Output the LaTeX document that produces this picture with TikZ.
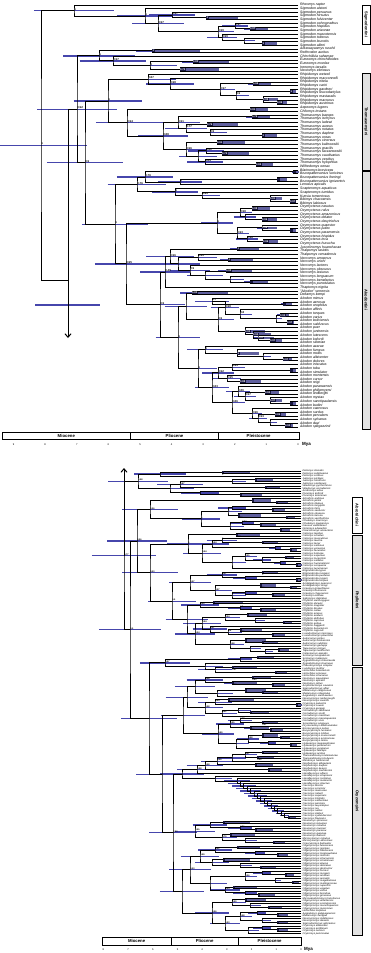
\documentclass[tikz,border=0pt]{standalone}
\usepackage{fontspec}
\setmainfont{Liberation Sans}
\usetikzlibrary{calc,arrows.meta}
\pgfdeclarelayer{bg}
\pgfsetlayers{bg,main}
\definecolor{hpdc}{RGB}{70,70,172}
\definecolor{lbarc}{RGB}{96,96,158}
\definecolor{dboxc}{RGB}{22,22,62}
\definecolor{cladegrey}{RGB}{226,226,226}
\newcommand\myfs[1]{\fontsize{#1}{#1}\selectfont}
\newif\ifboxlab
\boxlabtrue
\def\tipx{298}
\def\bh{1.4}
\gdef\barlist{}
% thin HPD bar node
\newcommand\cl[5]{%
 \coordinate (tmp) at ($(#3)!0.5!(#4)$);%
 \coordinate (#1) at (#2,0 |- tmp);%
 \pgfmathsetmacro\nAge{0.17*(\tipx-#2)+2}%
 \xdef\barlist{\unexpanded\expandafter{\barlist}\noexpand\draw[hpd] ($(#1)+(-\nAge,0)$) -- ($(#1)+(\nAge,0)$);}%
 \draw[br] (#3) -| (#1) |- (#4);%
 \node[plab] (l#1) at (#1) {#5};%
}
% boxed young node
\newcommand\cb[5]{%
 \coordinate (tmp) at ($(#3)!0.5!(#4)$);%
 \coordinate (#1) at (#2,0 |- tmp);%
 \pgfmathsetmacro\nAge{\tipx-#2}%
 \pgfmathsetmacro\nLft{0.1*\nAge+1}%
 \pgfmathsetmacro\nRgt{0.3*\nAge+4}%
 \xdef\barlist{\unexpanded\expandafter{\barlist}\noexpand\draw[hpd] ($(#1)+(-\nLft,0)$) -- (#1);\noexpand\fill[lbar] ($(#1)+(0,-\bh)$) rectangle ($(#1)+(\nRgt,\bh)$);}%
 \draw[br] (#3) -| (#1) |- (#4);%
 \ifboxlab
   \node[bxlab] (l#1) at (#1) {#5};%
 \else
   \node[dbx] (d#1) at (#1) {};%
   \node[plabb] (l#1) at (#1) {#5};%
 \fi
}
% comb (ladder) clade
\newcommand\ladder[6]{%
 \pgfmathtruncatemacro\nLA{#3-1}%
 \cb{#1\nLA}{#5}{#6\nLA}{#6#3}{}%
 \pgfmathtruncatemacro\nLB{#3-2}%
 \foreach \k in {\nLB,...,#2}{%
   \pgfmathtruncatemacro\nKN{\k+1}%
   \pgfmathsetmacro\nXX{#4+(\k-#2)*(#5-#4)/(#3-1-#2)}%
   \cl{#1\k}{\nXX}{#6\k}{#1\nKN}{}%
 }%
}
\begin{document}
\begin{tikzpicture}[x=1pt,y=-1pt,
 br/.style={line width=1pt,black},
 hpd/.style={line width=1.3pt,hpdc},
 lbar/.style={fill=lbarc},
 bxlab/.style={anchor=west,fill=dboxc,text=white,inner sep=0.3pt,minimum width=3pt,minimum height=2.8pt,font=\myfs{2.6}\bfseries,xshift=-0.3pt},
 dbx/.style={anchor=west,fill=dboxc,inner sep=0pt,minimum width=2.2pt,minimum height=2.4pt,xshift=-0.3pt},
 plab/.style={anchor=south west,inner sep=0.2pt,font=\myfs{2.8}\bfseries},
 plabb/.style={anchor=north west,inner sep=0.2pt,yshift=-1pt,font=\myfs{2.1}\bfseries},
 tlab/.style={anchor=west,inner sep=0pt,xshift=2pt,font=\myfs{3.5}\itshape},
 blab/.style={anchor=west,inner sep=0pt,xshift=1.5pt,font=\myfs{2.4}\itshape,xscale=1.15},
 epoch/.style={draw,line width=0.8pt,inner sep=0pt,font=\myfs{4.3}\bfseries},
 tick/.style={inner sep=0pt,font=\myfs{2.6}},
 mya/.style={anchor=west,inner sep=0pt,font=\myfs{4.5}\bfseries},
 cbox/.style={draw,line width=1pt,inner sep=0pt},
 ctext/.style={rotate=-90,inner sep=0pt,font=\myfs{4}\bfseries}]
\useasboundingbox (0,0) rectangle (371,953);

% ================= TOP PANEL =================
\foreach \n [count=\i] in {Rheomys raptor,Sigmodon alstoni,Sigmodon peruanus,Sigmodon hirsutus,Sigmodon fulviventer,Sigmodon ochrognathus,Sigmodon hispidus,Sigmodon arizonae,Sigmodon mascotensis,Sigmodon toltecus,Sigmodon leucotis,Sigmodon alleni,Abrawayaomys ruschii,Reithrodon auritus,Chinchillula sahamae,Euneomys chinchilloides,Euneomys mordax,Irenomys tarsalis,Neotomys ebriosus,Rhipidomys wetzeli,Rhipidomys macconnelli,Rhipidomys nitela,Rhipidomys cariri,Rhipidomys gardneri,Rhipidomys leucodactylus,Rhipidomys mastacalis,Rhipidomys macrurus,Rhipidomys austrinus,Aepeomys lugens,Chilomys instans,Thomasomys baeops,Thomasomys ischyrus,Thomasomys ladewi,Thomasomys aureus,Thomasomys notatus,Thomasomys daphne,Thomasomys oreas,Thomasomys cinereus,Thomasomys kalinowskii,Thomasomys gracilis,Thomasomys taczanowskii,Thomasomys caudivarius,Thomasomys vestitus,Thomasomys hylophilus,Wilfredomys oenax,Blarinomys breviceps,Brucepattersonius soricinus,Brucepattersonius iheringi,Brucepattersonius igniventris,Lenoxus apicalis,Scapteromys aquaticus,Scapteromys tumidus,Kunsia tomentosus,Bibimys chacoensis,Bibimys labiosus,Oxymycterus nasutus,Oxymycterus rufus,Oxymycterus amazonicus,Oxymycterus delator,Oxymycterus dasytrichus,Oxymycterus quaestor,Oxymycterus judex,Oxymycterus paramensis,Oxymycterus hispidus,Oxymycterus inca,Oxymycterus hucucha,Juscelinomys huanchacae,Thalpomys lasiotis,Thalpomys cerradensis,Necromys amoenus,Necromys urichi,Necromys lactens,Necromys obscurus,Necromys lasiurus,Necromys lenguarum,Necromys benefactus,Necromys punctulatus,Thaptomys nigrita,"Akodon" serrensis,Deltamys kempi,Akodon mimus,Akodon aerosus,Akodon orophilus,Akodon affinis,Akodon torques,Akodon varius,Akodon boliviensis,Akodon subfuscus,Akodon puer,Akodon juninensis,Akodon lutescens,Akodon kofordi,Akodon siberiae,Akodon azarae,Akodon fumeus,Akodon mollis,Akodon albiventer,Akodon dolores,Akodon iniscatus,Akodon toba,Akodon simulator,Akodon montensis,Akodon cursor,Akodon reigi,Akodon paranaensis,Akodon philipmyersi,Akodon lindberghi,Akodon mystax,Akodon sanctipaulensis,Akodon budini,Akodon caenosus,Akodon surdus,Akodon pervalens,Akodon sylvanus,Akodon dayi,Akodon spegazzinii}{%
 \coordinate (a\i) at (298,{5+(\i-1)*3.67});
 \node[tlab] (la\i) at (a\i) {\n};
}
% Sigmodontini
\cb{sg1}{206}{a4}{a5}{1}
\cl{sg2}{172}{a3}{sg1}{0.97}
\cb{sg4}{250}{a7}{a8}{0.97}
\cl{sg5}{235}{a6}{sg4}{0.97}
\cb{sg6}{262}{a11}{a12}{1}
\cl{sg7}{244}{a10}{sg6}{}
\cl{sg8}{222}{a9}{sg7}{0.99}
\cl{sg9}{218}{sg5}{sg8}{0.99}
\cl{sg10}{158}{sg2}{sg9}{0.97}
\cl{sg11}{145}{a2}{sg10}{1}
\cl{sig}{74}{a1}{sg11}{1}
% Reithrodontini etc.
\cb{e1}{152}{a13}{a14}{1}
\cb{e2}{193}{a16}{a17}{0.83}
\cb{e3}{180}{a18}{a19}{0.72}
\cl{e4}{150}{e2}{e3}{1}
\cl{e5}{113}{a15}{e4}{0.97}
\cl{e6}{99}{e1}{e5}{1}
% Thomasomyini
\cb{r1}{253}{a22}{a23}{0.96}
\cb{r2}{290}{a24}{a25}{1}
\cb{r3}{277}{a27}{a28}{0.99}
\cb{r4}{263}{a26}{r3}{0.98}
\cl{r5}{236}{r2}{r4}{0.9}
\cl{r6}{220}{r1}{r5}{0.97}
\cl{r7}{170}{a21}{r6}{0.98}
\cl{r8}{148}{a20}{r7}{0.87}
\cb{ac}{250}{a29}{a30}{0.91}
\cb{th1}{252}{a31}{a32}{0.76}
\cb{th2}{207}{a33}{a34}{0.76}
\cb{th3}{262}{a36}{a37}{1}
\cl{th4}{210}{a35}{th3}{0.9}
\cl{th5}{186}{th2}{th4}{0.77}
\cl{th6}{178}{th1}{th5}{0.91}
\cb{th7}{217}{a38}{a39}{0.91}
\cb{th8}{222}{a41}{a42}{0.72}
\cl{th9}{206}{a40}{th8}{0.82}
\cb{th10}{256}{a44}{a45}{0.82}
\cl{th11}{205}{a43}{th10}{0.84}
\cl{th12}{198}{th9}{th11}{}
\cl{th13}{186}{th7}{th12}{0.96}
\cl{th14}{163}{th6}{th13}{0.88}
\cl{th16}{127}{ac}{th14}{0.94}
\cl{tho}{108}{r8}{th16}{1}
% Akodontini
\cb{ak1}{293}{a46}{a47}{}
\cb{ak2}{277}{a48}{a49}{}
\cl{ak3}{180}{ak2}{a50}{1}
\cl{ak4}{145}{ak1}{ak3}{0.76}
\cb{ak5}{290}{a54}{a55}{0.97}
\cb{ak6}{270}{a53}{ak5}{0.81}
\cl{ak7}{202}{a52}{ak6}{0.95}
\cl{ak8}{175}{a51}{ak7}{1}
\cl{ak9}{137}{ak4}{ak8}{0.76}
\cb{ox1}{252}{a56}{a57}{0.98}
\cb{ox2}{262}{a59}{a60}{0.96}
\cl{ox3}{245}{a58}{ox2}{}
\cl{ox4}{240}{ox1}{ox3}{0.98}
\cb{ox5}{290}{a62}{a63}{}
\cb{ox6}{262}{a61}{ox5}{0.96}
\cb{ox7}{263}{a65}{a66}{0.96}
\cl{ox8}{247}{a64}{ox7}{0.98}
\cl{ox9}{237}{ox6}{ox8}{0.93}
\cl{ox10}{217}{ox4}{ox9}{1}
\cb{g1}{237}{a67}{a68}{1}
\cb{g2}{228}{a70}{a71}{1}
\cl{g3}{198}{a69}{g2}{0.95}
\cb{g4}{226}{a73}{a74}{0.93}
\cb{g5}{250}{a76}{a77}{}
\cl{g6}{230}{a75}{g5}{}
\cl{g7}{205}{g4}{g6}{}
\cl{g8}{190}{a72}{g7}{0.9}
\cl{g9}{178}{g3}{g8}{}
\cl{g10}{170}{g1}{g9}{0.96}
\cl{g11}{165}{g10}{a78}{0.48}
\cb{n1}{192}{a79}{a80}{0.83}
\cb{n2}{283}{a82}{a83}{}
\cl{n3}{212}{a81}{n2}{0.7}
\cb{n4}{280}{a85}{a86}{0.94}
\cb{n5}{287}{a87}{a88}{0.97}
\cl{n6}{276}{n4}{n5}{}
\cl{n7}{240}{a84}{n6}{0.8}
\cl{n8}{225}{n3}{n7}{0.98}
\cb{n9}{270}{a92}{a93}{0.97}
\cb{n10}{258}{a91}{n9}{0.97}
\cb{n11}{253}{a90}{n10}{0.94}
\cb{n12}{245}{a89}{n11}{0.93}
\cl{n13}{218}{n8}{n12}{0.9}
\cl{n14}{186}{n1}{n13}{}
\cb{k1}{283}{a97}{a98}{0.97}
\cl{k2}{263}{a96}{k1}{}
\cb{k3}{237}{a95}{k2}{1}
\cl{k4}{205}{a94}{k3}{1}
\cb{k5}{290}{a100}{a101}{}
\cl{k6}{232}{a99}{k5}{0.93}
\cb{k7}{240}{a103}{a104}{0.88}
\cl{k8}{227}{a102}{k7}{0.95}
\cl{k9}{218}{k6}{k8}{0.92}
\cb{k10}{265}{a106}{a107}{0.84}
\cb{k11}{290}{a109}{a110}{}
\cb{k12}{270}{a108}{k11}{0.87}
\cl{k13}{245}{k10}{k12}{0.97}
\cl{k14}{238}{a105}{k13}{0.86}
\cb{k15}{275}{a112}{a113}{0.86}
\cb{k16}{285}{a115}{a116}{0.94}
\cl{k17}{270}{a114}{k16}{}
\cl{k18}{258}{k15}{k17}{0.93}
\cl{k19}{252}{a111}{k18}{0.96}
\cl{k20}{232}{k14}{k19}{0.86}
\cl{k21}{212}{k9}{k20}{0.83}
\cl{k22}{198}{k4}{k21}{1}
\cl{g2n}{178}{n14}{k22}{1}
\cl{n160}{160}{g11}{g2n}{0.9}
\cl{n126}{126}{ox10}{n160}{0.95}
\cl{ak}{115}{ak9}{n126}{1}
\cl{F}{85}{tho}{ak}{0.9}
\cl{P}{77}{e6}{F}{0.92}
% stem to lower panel
\coordinate (Q) at (68,280);
\coordinate (Qend) at (68,338);
\coordinate (Qb) at (68,305);
\draw[br] (P) -| (Q);
\draw[br,-{Straight Barb[length=3.5pt,width=6pt]}] (Q) -- (Qend);
\cl{R}{41}{sig}{Q}{1}

% clade boxes top
\node[cbox,fill=white,minimum width=8pt,minimum height=39pt] (cSig) at (366,24.5) {};
\node[ctext] (tSig) at (cSig) {Sigmodontini};
\node[cbox,fill=cladegrey,minimum width=8pt,minimum height=97pt] (cTho) at (366,121.5) {};
\node[ctext] (tTho) at (cTho) {Thomasomyini};
\node[cbox,fill=cladegrey,minimum width=8pt,minimum height=258pt] (cAko) at (366,300) {};
\node[ctext] (tAko) at (cAko) {Akodontini};

% time bar top
\node[epoch,minimum width=128.7pt,minimum height=6.6pt] (eM1) at (66.35,436) {Miocene};
\node[epoch,minimum width=87.6pt,minimum height=6.6pt] (eP1) at (174.5,436) {Pliocene};
\node[epoch,minimum width=80.7pt,minimum height=6.6pt] (eQ1) at (258.65,436) {Pleistocene};
\foreach \k in {0,...,9}{\node[tick] (tt\k) at ({298-31.6*\k},444.5) {\k};}
\node[mya] (myaT) at (302,444.5) {Mya};

% ================= BOTTOM PANEL =================
\def\tipx{301}
\def\bh{1.2}
\boxlabfalse
\tikzset{plab/.append style={font=\myfs{2.2}\bfseries}}
\foreach \n [count=\i] in {Delomys dorsalis,Delomys sublineatus,Delomys collinus,Juliomys pictipes,Juliomys rimofrons,Juliomys ossitenuis,Wiedomys pyrrhorhinos,Wiedomys cerradensis,Andinomys edax,Punomys kofordi,Punomys lemminus,Abrothrix andinus,Abrothrix jelskii,Abrothrix illuteus,Abrothrix longipilis,Abrothrix hirta,Abrothrix sanborni,Abrothrix olivacea,Abrothrix lanosa,Abrothrix xanthorhina,Chelemys macronyx,Chelemys megalonyx,Geoxus valdivianus,Notiomys edwardsii,Pearsonomys annectens,Calomys lepidus,Calomys sorellus,Calomys musculinus,Calomys laucha,Calomys tener,Calomys callosus,Calomys venustus,Calomys fecundus,Calomys boliviae,Calomys expulsus,Calomys tocantinsi,Calomys callidus,Calomys hummelincki,Calomys cerqueirai,Calomys tucumanus,Eligmodontia typus,Eligmodontia morgani,Eligmodontia puerulus,Eligmodontia moreni,Eligmodontia hirtipes,Andalgalomys pearsoni,Andalgalomys olrogi,Graomys griseoflavus,Graomys domorum,Graomys chacoensis,Graomys edithae,Salinomys delicatus,Phyllotis xanthopygus,Phyllotis darwini,Phyllotis magister,Phyllotis limatus,Phyllotis osilae,Phyllotis amicus,Phyllotis andium,Phyllotis definitus,Phyllotis caprinus,Phyllotis anitae,Phyllotis haggardi,Phyllotis bonariensis,Phyllotis osgoodi,Loxodontomys micropus,Loxodontomys pikumche,Auliscomys pictus,Auliscomys boliviensis,Auliscomys sublimis,Galenomys garleppi,Tapecomys primus,Tapecomys wolffsohni,Calassomys apicalis,Scolomys ucayalensis,Scolomys melanops,Zygodontomys brevicauda,Zygodontomys brunneus,Pseudoryzomys simplex,Lundomys molitor,Holochilus brasiliensis,Holochilus sciureus,Holochilus chacarius,Nectomys squamipes,Nectomys apicalis,Nectomys rattus,Amphinectomys savamis,Sigmodontomys alfari,Melanomys caliginosus,Melanomys robustulus,Aegialomys xanthaeolus,Nesoryzomys narboroughi,Nesoryzomys swarthi,Oryzomys palustris,Oryzomys couesi,Oryzomys gorgasi,Cerradomys subflavus,Cerradomys scotti,Cerradomys marinhus,Cerradomys maracajuensis,Cerradomys vivoi,Sooretamys angouya,Drymoreomys albimaculatus,Eremoryzomys polius,Euryoryzomys russatus,Euryoryzomys nitidus,Euryoryzomys macconnelli,Euryoryzomys emmonsae,Euryoryzomys lamia,Hylaeamys megacephalus,Hylaeamys perenensis,Hylaeamys yunganus,Hylaeamys laticeps,Hylaeamys acritus,Transandinomys talamancae,Transandinomys bolivaris,Mindomys hammondi,Nephelomys albigularis,Nephelomys levipes,Nephelomys keaysi,Nephelomys meridensis,Handleyomys alfaroi,Handleyomys chapmani,Handleyomys rostratus,Handleyomys melanotis,Handleyomys intectus,Oecomys bicolor,Oecomys concolor,Oecomys mamorae,Oecomys roberti,Oecomys superans,Oecomys trinitatis,Oecomys catherinae,Oecomys paricola,Oecomys auyantepui,Oecomys rex,Oecomys rutilus,Oecomys cleberi,Oecomys sydandersoni,Oecomys flavicans,Neacomys spinosus,Neacomys tenuipes,Neacomys minutus,Neacomys musseri,Neacomys paracou,Neacomys guianae,Neacomys dubosti,Microryzomys minutus,Microryzomys altissimus,Oreoryzomys balneator,Oligoryzomys fulvescens,Oligoryzomys nigripes,Oligoryzomys flavescens,Oligoryzomys longicaudatus,Oligoryzomys microtis,Oligoryzomys chacoensis,Oligoryzomys stramineus,Oligoryzomys eliurus,Oligoryzomys delicatus,Oligoryzomys destructor,Oligoryzomys fornesi,Oligoryzomys moojeni,Oligoryzomys andinus,Oligoryzomys arenalis,Oligoryzomys magellanicus,Oligoryzomys mattogrossae,Oligoryzomys rupestris,Oligoryzomys vegetus,Oligoryzomys victus,Oligoryzomys brendae,Oligoryzomys griseolus,Microakodontomys transitorius,Oligoryzomys utiaritensis,Oligoryzomys costaricensis,Oligoryzomys munchiquensis,Oligoryzomys messorius,Holochilus vulpinus,Aegialomys galapagoensis,Melanomys zunigae,Nesoryzomys indefessus,Nesoryzomys darwini,Sigmodontomys aphrastus,Oryzomys albiventer,Oryzomys antillarum,Oryzomys nelsoni,Oryzomys peninsulae}{%
 \coordinate (b\i) at (301,{471+(\i-1)*2.5});
 \node[blab] (lb\i) at (b\i) {\n};
}
% first group
\cb{m1}{222}{b1}{b2}{1}
\cl{m2}{160}{m1}{b3}{}
\cb{m3}{255}{b4}{b5}{}
\cl{m4}{232}{m3}{b6}{}
\cb{m5}{265}{b7}{b8}{}
\cl{m6}{180}{m4}{m5}{0.87}
\cb{m7}{240}{b10}{b11}{}
\cl{m8}{200}{b9}{m7}{}
\cl{m9}{170}{m6}{m8}{}
\cl{m10}{138}{m2}{m9}{0.98}
% Abrotrichini
\cb{ab1}{276}{b13}{b14}{}
\cb{ab2}{252}{b12}{ab1}{1}
\cb{ab3}{272}{b16}{b17}{}
\cl{ab4}{232}{b15}{ab3}{}
\cb{ab5}{286}{b19}{b20}{}
\cb{ab6}{238}{b18}{ab5}{0.98}
\cl{ab7}{228}{ab4}{ab6}{1}
\cb{ab8}{260}{b22}{b23}{}
\cl{ab10}{242}{b21}{ab8}{0.84}
\cb{ab9}{280}{b24}{b25}{}
\cl{ab11}{230}{ab10}{ab9}{}
\cl{ab12}{201}{ab7}{ab11}{1}
\cl{abr}{150}{ab2}{ab12}{0.96}
% Phyllotini
\cb{p1}{236}{b26}{b27}{0.97}
\cb{p2}{262}{b29}{b30}{}
\cl{p3}{222}{b28}{p2}{1}
\cb{p4}{290}{b32}{b33}{}
\cl{p5}{275}{b31}{p4}{}
\cl{p6}{212}{p3}{p5}{0.94}
\cb{p7}{285}{b35}{b36}{}
\cb{p8}{296}{b38}{b39}{}
\cl{p9}{280}{b37}{p8}{}
\cl{p10}{262}{p7}{p9}{}
\cl{p11}{245}{b34}{p10}{0.95}
\cl{p12}{232}{p11}{b40}{}
\cl{p13}{202}{p6}{p12}{0.94}
\cl{ph1}{188}{p1}{p13}{1}
\cb{q1}{262}{b41}{b42}{1}
\cb{q2}{296}{b44}{b45}{}
\cl{q3}{245}{b43}{q2}{}
\cl{q4}{222}{q1}{q3}{0.97}
\cb{q5}{290}{b47}{b48}{}
\cb{q6}{260}{b46}{q5}{0.96}
\cb{q7}{272}{b50}{b51}{0.97}
\cl{q8}{245}{b49}{q7}{}
\cl{q9}{232}{q8}{b52}{}
\cl{q10}{215}{q6}{q9}{0.97}
\cl{ph2}{190}{q4}{q10}{0.97}
\cb{u1}{213}{b53}{b54}{1}
\cb{u2}{260}{b56}{b57}{}
\cl{u3}{240}{b55}{u2}{0.9}
\cl{u4}{200}{u1}{u3}{0.95}
\cb{u5}{247}{b58}{b59}{}
\cb{u6}{283}{b61}{b62}{}
\cl{u7}{255}{b60}{u6}{}
\cl{u8}{225}{u5}{u7}{0.94}
\cb{u9}{240}{b64}{b65}{0.98}
\cb{u10}{272}{b66}{b67}{}
\cl{u11}{228}{u9}{u10}{0.9}
\cl{u12}{210}{b63}{u11}{0.97}
\cl{u13}{202}{u8}{u12}{0.94}
\cb{u14}{262}{b69}{b70}{}
\cb{u15}{245}{b68}{u14}{}
\cb{u16}{278}{b72}{b73}{}
\cl{u17}{265}{u16}{b74}{}
\cl{u18}{250}{b71}{u17}{}
\cl{u19}{230}{u15}{u18}{0.98}
\cl{u20}{195}{u13}{u19}{0.94}
\cl{ph3}{187}{u4}{u20}{}
\cl{ph23}{172}{ph2}{ph3}{0.9}
\cl{ph}{150}{ph1}{ph23}{0.93}
% Oryzomyini
\cb{v1}{257}{b75}{b76}{}
\cl{v2}{240}{v1}{b77}{}
\cb{v3}{232}{b79}{b80}{0.97}
\cb{v4}{275}{b81}{b82}{}
\cl{v5}{215}{v3}{v4}{}
\cl{v7}{205}{b78}{v5}{}
\cl{ora}{165}{v2}{v7}{0.97}
\cb{w1}{252}{b83}{b84}{0.93}
\cb{w2}{272}{b86}{b87}{}
\cb{w3}{232}{b85}{w2}{0.98}
\cl{w4}{205}{w1}{w3}{0.98}
\cb{w5}{262}{b89}{b90}{}
\cb{w6}{245}{b88}{w5}{}
\cl{w7}{217}{w6}{b91}{}
\cl{w8}{195}{w4}{w7}{}
\cb{w9}{228}{b92}{b93}{}
\cb{w10}{296}{b94}{b95}{}
\cl{w11}{215}{w9}{w10}{0.94}
\cb{w12}{250}{b97}{b98}{}
\cl{w13}{238}{b96}{w12}{}
\cl{w14}{222}{w13}{b99}{0.91}
\cl{w15}{205}{w11}{w14}{0.98}
\cl{w16}{187}{w8}{w15}{}
\cb{w17}{262}{b101}{b102}{0.97}
\cl{w18}{240}{b100}{w17}{0.98}
\cb{w19}{270}{b104}{b105}{}
\cb{w20}{250}{b103}{w19}{0.96}
\cl{w21}{230}{w18}{w20}{0.95}
\cb{w22}{280}{b107}{b108}{}
\cb{w23}{262}{b106}{w22}{}
\cb{w24}{290}{b110}{b111}{}
\cl{w25}{268}{b109}{w24}{}
\cl{w26}{248}{w23}{w25}{0.98}
\cl{w27}{236}{w26}{b112}{}
\cl{w28}{218}{w21}{w27}{0.99}
\cl{orb1}{183}{w16}{w28}{}
\cb{y1}{262}{b113}{b114}{}
\cb{y2}{257}{b115}{b116}{0.95}
\cl{y3}{245}{y1}{y2}{0.97}
\cl{y4}{232}{y3}{b117}{}
\cb{y5}{255}{b118}{b119}{}
\cl{y6}{217}{y4}{y5}{0.99}
\cb{y7}{268}{b120}{b121}{}
\cl{y8}{205}{y6}{y7}{0.98}
\cl{y9}{197}{y8}{b122}{0.98}
\ladder{yl}{124}{140}{237}{288}{b}
\cl{y10}{215}{b123}{yl124}{}
\cl{orb2a}{182}{y9}{y10}{}
\cb{z1}{223}{b141}{b142}{}
\cb{z2}{255}{b144}{b145}{}
\cl{z3}{240}{b143}{z2}{0.86}
\cl{z4}{210}{z1}{z3}{}
\cb{z5}{230}{b146}{b147}{}
\cb{z6}{273}{b149}{b150}{}
\cl{z7}{245}{b148}{z6}{}
\cl{z8}{222}{z5}{z7}{0.76}
\cl{z9}{195}{z4}{z8}{0.95}
\cb{z10}{237}{b151}{b152}{}
\cb{z11}{277}{b154}{b155}{}
\cl{z12}{255}{b153}{z11}{}
\cl{z13}{215}{z10}{z12}{0.91}
\cb{z14}{223}{b156}{b157}{}
\cb{z15}{260}{b159}{b160}{}
\cl{z16}{240}{b158}{z15}{}
\cl{z17}{212}{z14}{z16}{}
\cl{z18}{200}{z13}{z17}{0.99}
\cb{z19}{285}{b162}{b163}{}
\cl{z20}{262}{b161}{z19}{}
\cb{z21}{292}{b165}{b166}{}
\cl{z22}{275}{b164}{z21}{}
\cl{z23}{245}{z20}{z22}{0.96}
\cb{z24}{233}{b167}{b168}{}
\cb{z25}{258}{b170}{b171}{}
\cl{z26}{245}{b169}{z25}{}
\cl{z27}{225}{z24}{z26}{0.94}
\cl{z28}{210}{z23}{z27}{}
\cl{z29}{190}{z18}{z28}{0.93}
\cb{z30}{245}{b172}{b173}{}
\cb{z31}{268}{b175}{b176}{}
\cl{z32}{250}{b174}{z31}{}
\cl{z33}{232}{z30}{z32}{0.99}
\cb{z34}{277}{b178}{b179}{0.96}
\cl{z35}{257}{b177}{z34}{}
\cb{z36}{277}{b181}{b182}{}
\cl{z37}{262}{b180}{z36}{}
\cl{z38}{240}{z35}{z37}{0.98}
\cb{z39}{277}{b184}{b185}{}
\cl{z40}{262}{b183}{z39}{}
\cl{z41}{248}{z40}{b186}{}
\cl{z42}{225}{z38}{z41}{0.93}
\cl{z43}{212}{z33}{z42}{0.96}
\cl{z44}{182}{z29}{z43}{}
\cl{orb2}{173}{orb2a}{z44}{0.93}
\cl{orb}{162}{orb1}{orb2}{}
\cl{oryz}{149}{ora}{orb}{}
\cl{NAP}{137}{abr}{ph}{0.96}
\cl{NAPO}{130}{NAP}{oryz}{0.5}
\cl{BR}{124}{m10}{NAPO}{0.77}
\coordinate (Btop) at (124,468);
\draw[br,-{Straight Barb[length=3.5pt,width=6pt]}] (BR) -- (Btop);

% clade boxes bottom
\node[cbox,fill=white,minimum width=10pt,minimum height=36pt] (cAbr) at (357,515) {};
\node[ctext] (tAbr) at (cAbr) {Abrotrichini};
\node[cbox,fill=cladegrey,minimum width=10pt,minimum height=130pt] (cPhy) at (357,600) {};
\node[ctext] (tPhy) at (cPhy) {Phyllotini};
\node[cbox,fill=cladegrey,minimum width=10pt,minimum height=268pt] (cOry) at (357,801) {};
\node[ctext] (tOry) at (cOry) {Oryzomyini};

% time bar bottom
\node[epoch,minimum width=68.7pt,minimum height=7.3pt] (eM2) at (136.65,941.3) {Miocene};
\node[epoch,minimum width=67.3pt,minimum height=7.3pt] (eP2) at (204.65,941.3) {Pliocene};
\node[epoch,minimum width=62.7pt,minimum height=7.3pt] (eQ2) at (269.65,941.3) {Pleistocene};
\foreach \k in {0,...,8}{\node[tick] (bt\k) at ({301-24.7*\k},949.5) {\k};}
\node[mya] (myaB) at (304,949.5) {Mya};

% HPD bars behind everything
\begin{pgfonlayer}{bg}
\fill[white] (0,0) rectangle (371,953);
\draw[hpd] ($(Qb)+(-33,0)$) -- ($(Qb)+(32,0)$);
\barlist
\end{pgfonlayer}
\end{tikzpicture}
\end{document}
